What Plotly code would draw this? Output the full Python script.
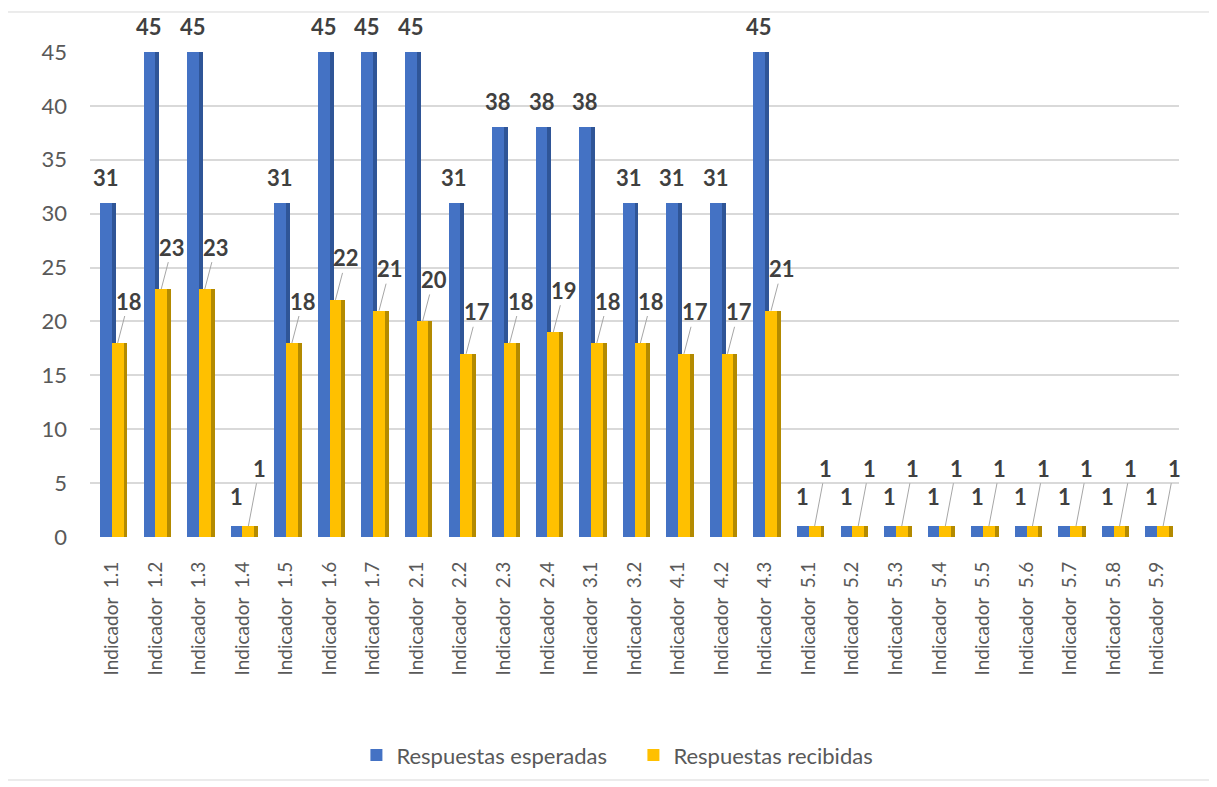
import plotly.graph_objects as go

NB = "\u00a0"
codes = ["1.1", "1.2", "1.3", "1.4", "1.5", "1.6", "1.7", "2.1", "2.2", "2.3", "2.4", "3.1", "3.2",
         "4.1", "4.2", "4.3", "5.1", "5.2", "5.3", "5.4", "5.5", "5.6", "5.7", "5.8", "5.9"]
categories = [f"Indicador{NB}{NB}{c}" for c in codes]
esperadas = [31, 45, 45, 1, 31, 45, 45, 45, 31, 38, 38, 38, 31, 31, 31, 45, 1, 1, 1, 1, 1, 1, 1, 1, 1]
recibidas = [18, 23, 23, 1, 18, 22, 21, 20, 17, 18, 19, 18, 18, 17, 17, 21, 1, 1, 1, 1, 1, 1, 1, 1, 1]
series_names = ["Respuestas esperadas", "Respuestas recibidas"]
y_ticks = [0, 5, 10, 15, 20, 25, 30, 35, 40, 45]

BLUE, BLUE_SIDE = "#4472C4", "#2F5597"
GOLD, GOLD_SIDE = "#FFC000", "#B38A00"
FONT = "Lato"
W = 0.27

fig = go.Figure()
fig.add_trace(go.Bar(x=categories, y=esperadas, offset=0.0, width=0.09, marker=dict(color=BLUE_SIDE, line_width=0),
                     showlegend=False, hoverinfo="skip"))
fig.add_trace(go.Bar(x=categories, y=esperadas, name=series_names[0], offset=-W, width=W,
                     marker=dict(color=BLUE, line_width=0)))
fig.add_trace(go.Bar(x=categories, y=recibidas, offset=W, width=0.09, marker=dict(color=GOLD_SIDE, line_width=0),
                     showlegend=False, hoverinfo="skip"))
fig.add_trace(go.Bar(x=categories, y=recibidas, name=series_names[1], offset=0.0, width=W,
                     marker=dict(color=GOLD, line_width=0)))

annotations = []
for i, v in enumerate(esperadas):
    annotations.append(dict(x=i - W / 2, y=v, xref="x", yref="y", text=f"<b>{v}</b>", showarrow=False,
                            yanchor="bottom", yshift=10 if v > 1 else 14,
                            font=dict(family=FONT, size=22, color="#404040")))
for i, v in enumerate(recibidas):
    annotations.append(dict(x=i + W / 2, y=v, xref="x", yref="y", text=f"<b>{v}</b>", showarrow=True,
                            arrowhead=0, arrowwidth=1, arrowcolor="#A6A6A6", ax=11, ay=-42 if v > 1 else -58,
                            standoff=0, font=dict(family=FONT, size=22, color="#404040")))

fig.update_layout(
    width=1217, height=787,
    margin=dict(l=82, r=46, t=44, b=258),
    paper_bgcolor="white", plot_bgcolor="white",
    barmode="overlay", bargap=0,
    font=dict(family=FONT, color="#595959"),
    annotations=annotations,
    legend=dict(orientation="h", x=0.499, xanchor="center", y=-0.45, yanchor="middle",
                font=dict(family=FONT, size=22, color="#595959"), traceorder="normal",
                itemwidth=30, itemsizing="constant", entrywidth=232, entrywidthmode="pixels"),
    shapes=[dict(type="rect", xref="paper", yref="paper", x0=-0.0762, x1=1.0285, y0=-0.501, y1=1.0825,
                 line=dict(color="#D9D9D9", width=1), fillcolor="rgba(0,0,0,0)", layer="below")],
)
fig.update_xaxes(type="category", range=[-0.5, 24.5], tickangle=-90, showgrid=False, showline=False,
                 ticks="", ticklabelstandoff=20, tickfont=dict(family=FONT, size=19, color="#595959"))
fig.update_yaxes(range=[0, 45], tickvals=y_ticks, showgrid=True, gridcolor="#D9D9D9", gridwidth=2,
                 zeroline=False, showline=False, ticks="", ticklabelstandoff=22,
                 tickfont=dict(family=FONT, size=22, color="#595959"))

fig.write_html("out.html")
